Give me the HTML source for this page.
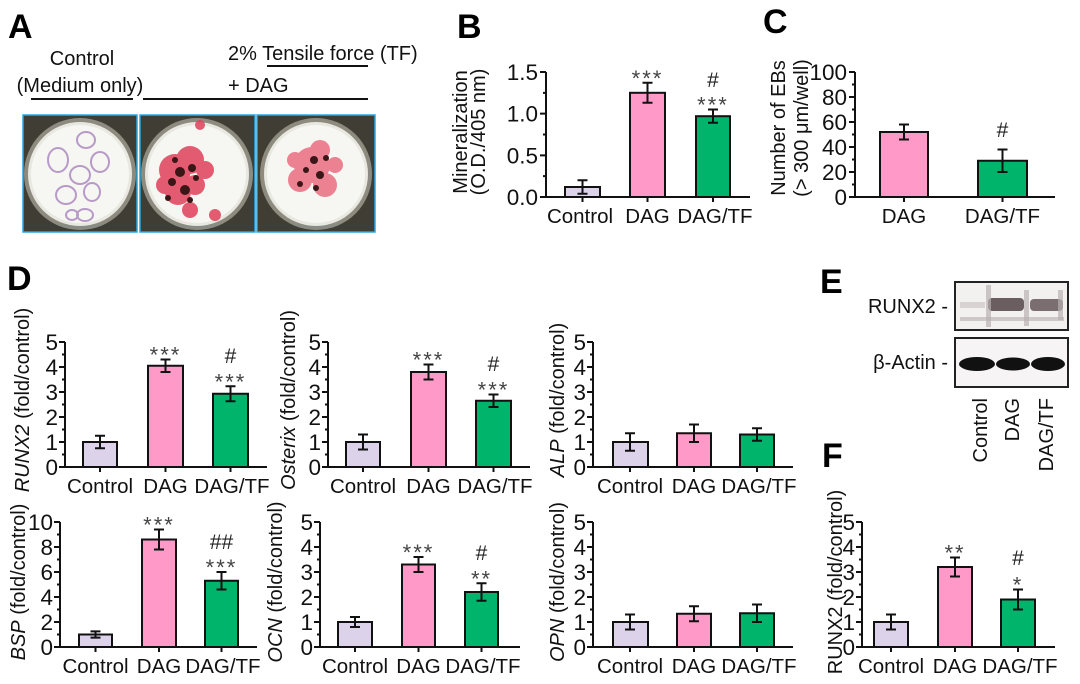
<!DOCTYPE html>
<html><head><meta charset="utf-8"><style>
html,body{margin:0;padding:0;background:#fff;}
svg{display:block;font-family:"Liberation Sans",sans-serif;}
.t{font-size:20px;fill:#111;}
.tk{font-size:22.5px;fill:#111;text-anchor:end;}
.xl{font-size:20.5px;fill:#111;text-anchor:middle;}
.st{font-size:22px;fill:#444;text-anchor:middle;letter-spacing:2px;}
.hs{font-size:21px;fill:#222;text-anchor:middle;}
.L{font-size:34px;font-weight:bold;fill:#000;}
.ax{fill:none;stroke:#111;stroke-width:2;}
.eb{fill:none;stroke:#111;stroke-width:2;}
.c1{fill:#dcd2ea;stroke:#111;stroke-width:2;}
.c2{fill:#ff9ac8;stroke:#111;stroke-width:2;}
.c3{fill:#00b46c;stroke:#111;stroke-width:2;}
</style></head><body>
<svg width="1080" height="684" viewBox="0 0 1080 684" xmlns="http://www.w3.org/2000/svg">
<text class="L" x="8" y="38">A</text>
<text class="L" x="457" y="38">B</text>
<text class="L" x="763" y="33">C</text>
<text class="L" x="7" y="290">D</text>
<text class="L" x="820" y="293">E</text>
<text class="L" x="822" y="467">F</text>

<!-- Panel A -->
<text class="t" x="82" y="65" text-anchor="middle">Control</text>
<text class="t" x="80" y="92" text-anchor="middle">(Medium only)</text>
<line x1="31" y1="99" x2="133" y2="99" stroke="#111" stroke-width="2"/>
<text class="t" x="228" y="60">2% Tensile force (TF)</text>
<line x1="267" y1="66" x2="368" y2="66" stroke="#111" stroke-width="2"/>
<text class="t" x="228" y="92">+ DAG</text>
<line x1="143" y1="99" x2="368" y2="99" stroke="#111" stroke-width="2"/>

<g>
<rect x="23" y="115" width="114" height="117" fill="#3f3d34" stroke="#29a8e0" stroke-width="1.5"/>
<circle cx="80" cy="174" r="56" fill="#8d8b80"/>
<circle cx="80" cy="174" r="52" fill="#e8e8e0"/>
<circle cx="80" cy="174" r="49" fill="#f6f6f2"/>
<g fill="none" stroke="#b79ac8" stroke-width="2">
<ellipse cx="58" cy="160" rx="10" ry="12"/><ellipse cx="86" cy="140" rx="9" ry="8"/>
<ellipse cx="100" cy="162" rx="9" ry="10"/><ellipse cx="80" cy="175" rx="10" ry="9"/>
<ellipse cx="66" cy="195" rx="10" ry="9"/><ellipse cx="92" cy="192" rx="8" ry="9"/>
<ellipse cx="85" cy="215" rx="8" ry="6"/><ellipse cx="72" cy="215" rx="6" ry="5"/>
</g>
</g>
<g>
<rect x="140" y="115" width="115" height="117" fill="#3f3d34" stroke="#29a8e0" stroke-width="1.5"/>
<circle cx="197" cy="174" r="56" fill="#8d8b80"/>
<circle cx="197" cy="174" r="52" fill="#e8e8e0"/>
<circle cx="197" cy="174" r="49" fill="#f6f6f2"/>
<g fill="#e0405a" opacity="0.85">
<circle cx="175" cy="170" r="16"/><circle cx="190" cy="160" r="14"/><circle cx="178" cy="192" r="13"/>
<circle cx="195" cy="185" r="10"/><circle cx="165" cy="185" r="9"/><circle cx="205" cy="170" r="9"/>
<circle cx="190" cy="210" r="8"/><circle cx="215" cy="215" r="6"/><circle cx="200" cy="125" r="5"/>
</g>
<g fill="#3a1616">
<circle cx="180" cy="172" r="5"/><circle cx="172" cy="182" r="4"/><circle cx="192" cy="168" r="4"/>
<circle cx="185" cy="190" r="5"/><circle cx="168" cy="198" r="3"/><circle cx="196" cy="178" r="3"/>
<circle cx="175" cy="160" r="3"/><circle cx="190" cy="200" r="3"/>
</g>
</g>
<g>
<rect x="257" y="115" width="118" height="117" fill="#3f3d34" stroke="#29a8e0" stroke-width="1.5"/>
<circle cx="316" cy="174" r="56" fill="#8d8b80"/>
<circle cx="316" cy="174" r="52" fill="#e8e8e0"/>
<circle cx="316" cy="174" r="49" fill="#f6f6f2"/>
<g fill="#e8506a" opacity="0.7">
<circle cx="312" cy="165" r="18"/><circle cx="300" cy="180" r="12"/><circle cx="325" cy="185" r="12"/>
<circle cx="320" cy="150" r="10"/><circle cx="295" cy="160" r="8"/><circle cx="335" cy="165" r="8"/>
</g>
<g fill="#3a1616">
<circle cx="314" cy="160" r="4"/><circle cx="306" cy="170" r="3"/><circle cx="320" cy="175" r="4"/>
<circle cx="326" cy="158" r="3"/><circle cx="300" cy="184" r="3"/><circle cx="316" cy="188" r="3"/>
</g>
</g>

<!-- Panel B -->
<text class="t" transform="translate(467,132) rotate(-90)" text-anchor="middle">Mineralization</text>
<text class="t" transform="translate(485,132) rotate(-90)" text-anchor="middle">(O.D./405 nm)</text>
<g transform="translate(546,197)">
<path class="ax" d="M0,-125V0H204"/>
<path class="ax" d="M-6,0H0M-6,-41.67H0M-6,-83.33H0M-6,-125H0M-3,-20.83H0M-3,-62.5H0M-3,-104.17H0M36.5,0v5M101.5,0v5M167,0v5"/>
<text class="tk" x="-8" y="8">0.0</text><text class="tk" x="-8" y="-33.7">0.5</text>
<text class="tk" x="-8" y="-75.3">1.0</text><text class="tk" x="-8" y="-117">1.5</text>
<rect class="c1" x="19" y="-10" width="35" height="10"/>
<rect class="c2" x="84" y="-104.2" width="35" height="104.2"/>
<rect class="c3" x="150" y="-80.8" width="34" height="80.8"/>
<path class="eb" d="M36.5,-16.7V-3.3M31.5,-16.7H41.5M31.5,-3.3H41.5"/>
<path class="eb" d="M101.5,-114.2V-94.2M96.5,-114.2H106.5M96.5,-94.2H106.5"/>
<path class="eb" d="M167,-87.5V-74.2M162,-87.5H172M162,-74.2H172"/>
<text class="st" x="101.5" y="-111">***</text>
<text class="hs" x="167" y="-110">#</text>
<text class="st" x="167" y="-84.5">***</text>
<text class="xl" x="34" y="26">Control</text>
<text class="xl" x="101.5" y="26">DAG</text>
<text class="xl" x="169" y="26">DAG/TF</text>
</g>

<!-- Panel C -->
<text class="t" transform="translate(785,128) rotate(-90)" text-anchor="middle">Number of EBs</text>
<text class="t" transform="translate(808,128) rotate(-90)" text-anchor="middle">(&gt; 300 μm/well)</text>
<g transform="translate(855,197)">
<path class="ax" d="M0,-125V0H200"/>
<path class="ax" d="M-6,0H0M-6,-25H0M-6,-50H0M-6,-75H0M-6,-100H0M-6,-125H0M-3,-12.5H0M-3,-37.5H0M-3,-62.5H0M-3,-87.5H0M-3,-112.5H0M49,0v5M147.5,0v5"/>
<text class="tk" x="-8" y="8">0</text><text class="tk" x="-8" y="-17">20</text>
<text class="tk" x="-8" y="-42">40</text><text class="tk" x="-8" y="-67">60</text>
<text class="tk" x="-8" y="-92">80</text><text class="tk" x="-8" y="-117">100</text>
<rect class="c2" x="25" y="-65" width="48" height="65"/>
<rect class="c3" x="123" y="-36.25" width="49" height="36.25"/>
<path class="eb" d="M49,-72.5V-57.5M44,-72.5H54M44,-57.5H54"/>
<path class="eb" d="M147.5,-47.5V-25M142.5,-47.5H152.5M142.5,-25H152.5"/>
<text class="hs" x="147.5" y="-60">#</text>
<text class="xl" x="49" y="26">DAG</text>
<text class="xl" x="147.5" y="26">DAG/TF</text>
</g>

<!-- D1 RUNX2 -->
<text class="t" transform="translate(29,400) rotate(-90)" text-anchor="middle"><tspan font-style="italic">RUNX2</tspan> (fold/control)</text>
<g transform="translate(65,467)">
<path class="ax" d="M0,-125V0H202"/>
<path class="ax" d="M-6,0H0M-6,-25H0M-6,-50H0M-6,-75H0M-6,-100H0M-6,-125H0M-3,-12.5H0M-3,-37.5H0M-3,-62.5H0M-3,-87.5H0M-3,-112.5H0M35,0v5M100.5,0v5M165.5,0v5"/>
<text class="tk" x="-7" y="8">0</text><text class="tk" x="-7" y="-17">1</text><text class="tk" x="-7" y="-42">2</text><text class="tk" x="-7" y="-67">3</text><text class="tk" x="-7" y="-92">4</text><text class="tk" x="-7" y="-117">5</text>
<rect class="c1" x="18" y="-25" width="34" height="25"/>
<rect class="c2" x="83" y="-101.25" width="35" height="101.25"/>
<rect class="c3" x="148" y="-73.25" width="35" height="73.25"/>
<path class="eb" d="M35,-31.25V-18.75M30,-31.25H40M30,-18.75H40"/>
<path class="eb" d="M100.5,-107.5V-95M95.5,-107.5H105.5M95.5,-95H105.5"/>
<path class="eb" d="M165.5,-80.75V-65.75M160.5,-80.75H170.5M160.5,-65.75H170.5"/>
<text class="st" x="100.5" y="-104.5">***</text>
<text class="hs" x="165.5" y="-104">#</text>
<text class="st" x="165.5" y="-77.75">***</text>
<text class="xl" x="35" y="26">Control</text><text class="xl" x="100.5" y="26">DAG</text><text class="xl" x="167" y="26">DAG/TF</text>
</g>

<!-- D2 Osterix -->
<text class="t" transform="translate(295,400) rotate(-90)" text-anchor="middle"><tspan font-style="italic">Osterix</tspan> (fold/control)</text>
<g transform="translate(328,467)">
<path class="ax" d="M0,-125V0H202"/>
<path class="ax" d="M-6,0H0M-6,-25H0M-6,-50H0M-6,-75H0M-6,-100H0M-6,-125H0M-3,-12.5H0M-3,-37.5H0M-3,-62.5H0M-3,-87.5H0M-3,-112.5H0M35,0v5M100.5,0v5M165.5,0v5"/>
<text class="tk" x="-7" y="8">0</text><text class="tk" x="-7" y="-17">1</text><text class="tk" x="-7" y="-42">2</text><text class="tk" x="-7" y="-67">3</text><text class="tk" x="-7" y="-92">4</text><text class="tk" x="-7" y="-117">5</text>
<rect class="c1" x="18" y="-25" width="34" height="25"/>
<rect class="c2" x="83" y="-95" width="35" height="95"/>
<rect class="c3" x="148" y="-66.25" width="35" height="66.25"/>
<path class="eb" d="M35,-32.5V-17.5M30,-32.5H40M30,-17.5H40"/>
<path class="eb" d="M100.5,-102.5V-87.5M95.5,-102.5H105.5M95.5,-87.5H105.5"/>
<path class="eb" d="M165.5,-72.5V-60M160.5,-72.5H170.5M160.5,-60H170.5"/>
<text class="st" x="100.5" y="-99.5">***</text>
<text class="hs" x="165.5" y="-96">#</text>
<text class="st" x="165.5" y="-69.5">***</text>
<text class="xl" x="35" y="26">Control</text><text class="xl" x="100.5" y="26">DAG</text><text class="xl" x="167" y="26">DAG/TF</text>
</g>

<!-- D3 ALP -->
<text class="t" transform="translate(564,400) rotate(-90)" text-anchor="middle"><tspan font-style="italic">ALP</tspan> (fold/control)</text>
<g transform="translate(593,467)">
<path class="ax" d="M0,-125V0H200"/>
<path class="ax" d="M-6,0H0M-6,-25H0M-6,-50H0M-6,-75H0M-6,-100H0M-6,-125H0M-3,-12.5H0M-3,-37.5H0M-3,-62.5H0M-3,-87.5H0M-3,-112.5H0M37,0v5M101,0v5M164,0v5"/>
<text class="tk" x="-7" y="8">0</text><text class="tk" x="-7" y="-17">1</text><text class="tk" x="-7" y="-42">2</text><text class="tk" x="-7" y="-67">3</text><text class="tk" x="-7" y="-92">4</text><text class="tk" x="-7" y="-117">5</text>
<rect class="c1" x="20" y="-25" width="35" height="25"/>
<rect class="c2" x="84" y="-33.75" width="34" height="33.75"/>
<rect class="c3" x="147" y="-32.5" width="34" height="32.5"/>
<path class="eb" d="M37,-33.75V-16.25M32,-33.75H42M32,-16.25H42"/>
<path class="eb" d="M101,-42.5V-25M96,-42.5H106M96,-25H106"/>
<path class="eb" d="M164,-38.75V-26.25M159,-38.75H169M159,-26.25H169"/>
<text class="xl" x="37" y="26">Control</text><text class="xl" x="101" y="26">DAG</text><text class="xl" x="166" y="26">DAG/TF</text>
</g>

<!-- BSP -->
<text class="t" transform="translate(25,582) rotate(-90)" text-anchor="middle"><tspan font-style="italic">BSP</tspan> (fold/control)</text>
<g transform="translate(60,647)">
<path class="ax" d="M0,-125V0H197"/>
<path class="ax" d="M-6,0H0M-6,-25H0M-6,-50H0M-6,-75H0M-6,-100H0M-6,-125H0M-3,-12.5H0M-3,-37.5H0M-3,-62.5H0M-3,-87.5H0M-3,-112.5H0M35.5,0v5M99,0v5M161.5,0v5"/>
<text class="tk" x="-7" y="8">0</text><text class="tk" x="-7" y="-17">2</text><text class="tk" x="-7" y="-42">4</text><text class="tk" x="-7" y="-67">6</text><text class="tk" x="-7" y="-92">8</text><text class="tk" x="-7" y="-117">10</text>
<rect class="c1" x="19" y="-12.5" width="33" height="12.5"/>
<rect class="c2" x="82" y="-107.5" width="34" height="107.5"/>
<rect class="c3" x="145" y="-66.25" width="33" height="66.25"/>
<path class="eb" d="M35.5,-15.6V-9.4M30.5,-15.6H40.5M30.5,-9.4H40.5"/>
<path class="eb" d="M99,-117.5V-97.5M94,-117.5H104M94,-97.5H104"/>
<path class="eb" d="M161.5,-75V-57.5M156.5,-75H166.5M156.5,-57.5H166.5"/>
<text class="st" x="99" y="-114.5">***</text>
<text class="hs" x="161.5" y="-98">##</text>
<text class="st" x="161.5" y="-72">***</text>
<text class="xl" x="35.5" y="26">Control</text><text class="xl" x="99" y="26">DAG</text><text class="xl" x="163" y="26">DAG/TF</text>
</g>

<!-- OCN -->
<text class="t" transform="translate(282,582) rotate(-90)" text-anchor="middle"><tspan font-style="italic">OCN</tspan> (fold/control)</text>
<g transform="translate(320,647)">
<path class="ax" d="M0,-125V0H200"/>
<path class="ax" d="M-6,0H0M-6,-25H0M-6,-50H0M-6,-75H0M-6,-100H0M-6,-125H0M-3,-12.5H0M-3,-37.5H0M-3,-62.5H0M-3,-87.5H0M-3,-112.5H0M35,0v5M98.5,0v5M161.5,0v5"/>
<text class="tk" x="-7" y="8">0</text><text class="tk" x="-7" y="-17">1</text><text class="tk" x="-7" y="-42">2</text><text class="tk" x="-7" y="-67">3</text><text class="tk" x="-7" y="-92">4</text><text class="tk" x="-7" y="-117">5</text>
<rect class="c1" x="18" y="-25" width="34" height="25"/>
<rect class="c2" x="82" y="-82.5" width="33" height="82.5"/>
<rect class="c3" x="145" y="-55" width="33" height="55"/>
<path class="eb" d="M35,-30V-20M30,-30H40M30,-20H40"/>
<path class="eb" d="M98.5,-90V-75M93.5,-90H103.5M93.5,-75H103.5"/>
<path class="eb" d="M161.5,-63.75V-46.25M156.5,-63.75H166.5M156.5,-46.25H166.5"/>
<text class="st" x="98.5" y="-87">***</text>
<text class="hs" x="161.5" y="-87">#</text>
<text class="st" x="161.5" y="-60.75">**</text>
<text class="xl" x="35" y="26">Control</text><text class="xl" x="98.5" y="26">DAG</text><text class="xl" x="163" y="26">DAG/TF</text>
</g>

<!-- OPN -->
<text class="t" transform="translate(564,582) rotate(-90)" text-anchor="middle"><tspan font-style="italic">OPN</tspan> (fold/control)</text>
<g transform="translate(593,647)">
<path class="ax" d="M0,-125V0H200"/>
<path class="ax" d="M-6,0H0M-6,-25H0M-6,-50H0M-6,-75H0M-6,-100H0M-6,-125H0M-3,-12.5H0M-3,-37.5H0M-3,-62.5H0M-3,-87.5H0M-3,-112.5H0M37,0v5M101,0v5M164,0v5"/>
<text class="tk" x="-7" y="8">0</text><text class="tk" x="-7" y="-17">1</text><text class="tk" x="-7" y="-42">2</text><text class="tk" x="-7" y="-67">3</text><text class="tk" x="-7" y="-92">4</text><text class="tk" x="-7" y="-117">5</text>
<rect class="c1" x="20" y="-25" width="35" height="25"/>
<rect class="c2" x="84" y="-33.25" width="34" height="33.25"/>
<rect class="c3" x="147" y="-33.75" width="34" height="33.75"/>
<path class="eb" d="M37,-32.5V-17.5M32,-32.5H42M32,-17.5H42"/>
<path class="eb" d="M101,-40.75V-25.75M96,-40.75H106M96,-25.75H106"/>
<path class="eb" d="M164,-42.5V-25M159,-42.5H169M159,-25H169"/>
<text class="xl" x="37" y="26">Control</text><text class="xl" x="101" y="26">DAG</text><text class="xl" x="166" y="26">DAG/TF</text>
</g>

<!-- Panel E -->
<text class="t" x="948" y="313" text-anchor="end">RUNX2 -</text>
<text class="t" x="948" y="369" text-anchor="end">β-Actin -</text>
<rect x="955" y="282" width="113" height="48" fill="#f3f0f0" stroke="#222" stroke-width="2"/>
<rect x="960" y="302" width="25" height="6" fill="#d8d2d2"/>
<rect x="988" y="298" width="36" height="13" fill="#6a5e60" rx="4"/>
<rect x="1030" y="299" width="33" height="12" fill="#7a6e70" rx="4"/>
<rect x="960" y="317" width="104" height="4" fill="#cfc8c8"/>
<rect x="986" y="285" width="5" height="42" fill="#b8b0b0" opacity="0.7"/>
<rect x="1024" y="290" width="5" height="36" fill="#b8b0b0" opacity="0.7"/>
<rect x="1058" y="290" width="5" height="30" fill="#b8b0b0" opacity="0.7"/>
<rect x="955" y="338" width="113" height="49" fill="#f6f4f4" stroke="#222" stroke-width="2"/>
<ellipse cx="977" cy="364" rx="18" ry="7" fill="#111"/>
<ellipse cx="1013" cy="364" rx="17" ry="6.5" fill="#111"/>
<ellipse cx="1048" cy="364" rx="17" ry="7" fill="#111"/>
<text class="t" transform="translate(987,398) rotate(-90)" text-anchor="end">Control</text>
<text class="t" transform="translate(1019,398) rotate(-90)" text-anchor="end">DAG</text>
<text class="t" transform="translate(1053,398) rotate(-90)" text-anchor="end">DAG/TF</text>

<!-- Panel F -->
<text class="t" transform="translate(842,582) rotate(-90)" text-anchor="middle">RUNX2 (fold/control)</text>
<g transform="translate(862,647)">
<path class="ax" d="M0,-125V0H193"/>
<path class="ax" d="M-6,0H0M-6,-25H0M-6,-50H0M-6,-75H0M-6,-100H0M-6,-125H0M-3,-12.5H0M-3,-37.5H0M-3,-62.5H0M-3,-87.5H0M-3,-112.5H0M29,0v5M93,0v5M156,0v5"/>
<text class="tk" x="-7" y="8">0</text><text class="tk" x="-7" y="-17">1</text><text class="tk" x="-7" y="-42">2</text><text class="tk" x="-7" y="-67">3</text><text class="tk" x="-7" y="-92">4</text><text class="tk" x="-7" y="-117">5</text>
<rect class="c1" x="12" y="-25" width="34" height="25"/>
<rect class="c2" x="76" y="-80" width="34" height="80"/>
<rect class="c3" x="139" y="-47.5" width="34" height="47.5"/>
<path class="eb" d="M29,-32.5V-17.5M24,-32.5H34M24,-17.5H34"/>
<path class="eb" d="M93,-89.5V-70.5M88,-89.5H98M88,-70.5H98"/>
<path class="eb" d="M156,-57.5V-37.5M151,-57.5H161M151,-37.5H161"/>
<text class="st" x="93" y="-86.5">**</text>
<text class="hs" x="156" y="-82">#</text>
<text class="st" x="156" y="-54.5">*</text>
<text class="xl" x="29" y="26">Control</text><text class="xl" x="93" y="26">DAG</text><text class="xl" x="158" y="26">DAG/TF</text>
</g>
</svg>
</body></html>
